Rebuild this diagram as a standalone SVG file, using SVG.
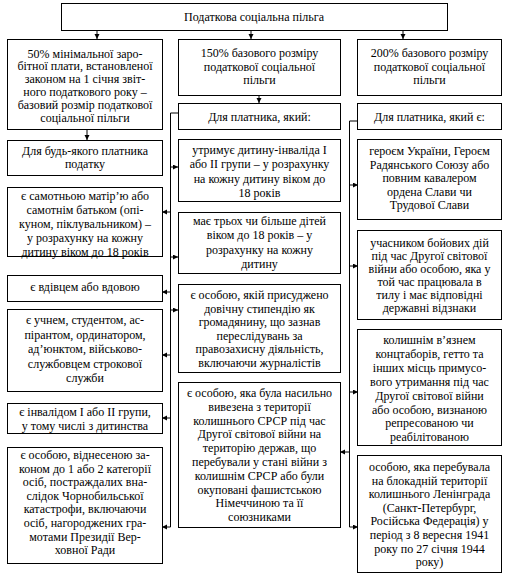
<svg xmlns="http://www.w3.org/2000/svg" width="523" height="581" viewBox="0 0 523 581">
<style>
rect.b{fill:#fff;stroke:#000;stroke-width:1}
text{font-family:'Liberation Serif','Times New Roman',Tinos,'Noto Serif','DejaVu Serif',serif;font-size:12px;fill:#000;text-anchor:middle}
.c{fill:none;stroke:#000;stroke-width:1}
</style>
<defs>
<marker id="ah" markerUnits="userSpaceOnUse" markerWidth="6" markerHeight="6" refX="5" refY="2.5" orient="auto"><path d="M0,0 L5,2.5 L0,5 z" fill="#000"/></marker>
</defs>
<rect width="523" height="581" fill="#fff"/>
<g id="connectors">
<path class="c" d="M97,30 V39" marker-end="url(#ah)"/>
<path class="c" d="M251,30 V39" marker-end="url(#ah)"/>
<path class="c" d="M403,30 V39" marker-end="url(#ah)"/>
<path class="c" d="M259,95 V103" marker-end="url(#ah)"/>
<path class="c" d="M87,129 V140" marker-end="url(#ah)"/>
<path class="c" d="M178,113 H170.5 V527"/>
<path class="c" d="M170.5,167 H178" marker-end="url(#ah)"/>
<path class="c" d="M170.5,257 H178" marker-end="url(#ah)"/>
<path class="c" d="M170.5,310 H178" marker-end="url(#ah)"/>
<path class="c" d="M170.5,212 H162" marker-end="url(#ah)"/>
<path class="c" d="M170.5,292 H162" marker-end="url(#ah)"/>
<path class="c" d="M170.5,355 H162" marker-end="url(#ah)"/>
<path class="c" d="M170.5,418 H162" marker-end="url(#ah)"/>
<path class="c" d="M170.5,527 H162" marker-end="url(#ah)"/>
<path class="c" d="M358,121 H349.5 V527"/>
<path class="c" d="M349.5,185 H358" marker-end="url(#ah)"/>
<path class="c" d="M349.5,266 H358" marker-end="url(#ah)"/>
<path class="c" d="M349.5,392 H358" marker-end="url(#ah)"/>
<path class="c" d="M349.5,527 H358" marker-end="url(#ah)"/>
<path class="c" d="M349.5,452 H340" marker-end="url(#ah)"/>
</g>
<g id="top"><rect class="b" x="61.5" y="3.5" width="386" height="27"/><text x="254" y="21">Податкова соціальна пільга</text></g>
<g id="l1"><rect class="b" x="7.5" y="39.5" width="155" height="90"/>
<text><tspan x="85" y="57.5">50% мінімальної заро-</tspan><tspan x="85" y="70.3">бітної плати, встановленої</tspan><tspan x="85" y="83.1">законом на 1 січня звіт-</tspan><tspan x="85" y="95.9">ного податкового року –</tspan><tspan x="85" y="108.7">базовий розмір податкової</tspan><tspan x="85" y="121.5">соціальної пільги</tspan></text></g>
<g id="c1"><rect class="b" x="178.5" y="39.5" width="162" height="56"/>
<text><tspan x="259.5" y="57">150% базового розміру</tspan><tspan x="259.5" y="70.5">податкової соціальної</tspan><tspan x="259.5" y="84">пільги</tspan></text></g>
<g id="r1"><rect class="b" x="357.5" y="39.5" width="144" height="56"/>
<text><tspan x="429.5" y="57">200% базового розміру</tspan><tspan x="429.5" y="70.5">податкової соціальної</tspan><tspan x="429.5" y="84">пільги</tspan></text></g>
<g id="c2"><rect class="b" x="178.5" y="103.5" width="162" height="26"/><text x="259.5" y="121">Для платника, який:</text></g>
<g id="r2"><rect class="b" x="357.5" y="103.5" width="144" height="26"/><text x="429.5" y="121">Для платника, який є:</text></g>
<g id="l2"><rect class="b" x="7.5" y="140.5" width="155" height="35"/>
<text><tspan x="85" y="155">Для будь-якого платника</tspan><tspan x="85" y="167.5">податку</tspan></text></g>
<g id="l3"><rect class="b" x="7.5" y="187.5" width="155" height="69"/>
<text><tspan x="85" y="200">є самотньою матір’ю або</tspan><tspan x="85" y="213.9">самотнім батьком (опі-</tspan><tspan x="85" y="227.8">куном, піклувальником) –</tspan><tspan x="85" y="241.7">у розрахунку на кожну</tspan><tspan x="85" y="255.6">дитину віком до 18 років</tspan></text></g>
<g id="l4"><rect class="b" x="7.5" y="275.5" width="155" height="26"/><text x="85" y="291">є вдівцем або вдовою</text></g>
<g id="l5"><rect class="b" x="7.5" y="309.5" width="155" height="82"/>
<text><tspan x="85" y="324">є учнем, студентом, ас-</tspan><tspan x="85" y="338.6">пірантом, ординатором,</tspan><tspan x="85" y="353.2">ад’юнктом, військово-</tspan><tspan x="85" y="367.8">службовцем строкової</tspan><tspan x="85" y="382.4">служби</tspan></text></g>
<g id="l6"><rect class="b" x="7.5" y="403.5" width="155" height="30"/>
<text><tspan x="85" y="416">є інвалідом I або II групи,</tspan><tspan x="85" y="429.5">у тому числі з дитинства</tspan></text></g>
<g id="l7"><rect class="b" x="7.5" y="447.5" width="155" height="116"/>
<text><tspan x="85" y="459">є особою, віднесеною за-</tspan><tspan x="85" y="472.6">коном до 1 або 2 категорії</tspan><tspan x="85" y="486.2">осіб, постраждалих вна-</tspan><tspan x="85" y="499.8">слідок Чорнобильської</tspan><tspan x="85" y="513.4">катастрофи, включаючи</tspan><tspan x="85" y="527">осіб, нагороджених гра-</tspan><tspan x="85" y="540.6">мотами Президії Вер-</tspan><tspan x="85" y="554.2">ховної Ради</tspan></text></g>
<g id="c3"><rect class="b" x="178.5" y="139.5" width="162" height="62"/>
<text><tspan x="259.5" y="154">утримує дитину-інваліда I</tspan><tspan x="259.5" y="168.3">або II групи – у розрахунку</tspan><tspan x="259.5" y="182.6">на кожну дитину віком до</tspan><tspan x="259.5" y="196.9">18 років</tspan></text></g>
<g id="c4"><rect class="b" x="178.5" y="212.5" width="162" height="61"/>
<text><tspan x="259.5" y="225">має трьох чи більше дітей</tspan><tspan x="259.5" y="239.3">віком до 18 років – у</tspan><tspan x="259.5" y="253.6">розрахунку на кожну</tspan><tspan x="259.5" y="267.9">дитину</tspan></text></g>
<g id="c5"><rect class="b" x="178.5" y="284.5" width="162" height="88"/>
<text><tspan x="259.5" y="299">є особою, якій присуджено</tspan><tspan x="259.5" y="312.6">довічну стипендію як</tspan><tspan x="259.5" y="326.2">громадянину, що зазнав</tspan><tspan x="259.5" y="339.8">переслідувань за</tspan><tspan x="259.5" y="353.4">правозахисну діяльність,</tspan><tspan x="259.5" y="367">включаючи журналістів</tspan></text></g>
<g id="c6"><rect class="b" x="178.5" y="382.5" width="162" height="145"/>
<text><tspan x="259.5" y="397">є особою, яка була насильно</tspan><tspan x="259.5" y="410.8">вивезена з території</tspan><tspan x="259.5" y="424.6">колишнього СРСР під час</tspan><tspan x="259.5" y="438.4">Другої світової війни на</tspan><tspan x="259.5" y="452.2">територію держав, що</tspan><tspan x="259.5" y="466">перебували у стані війни з</tspan><tspan x="259.5" y="479.8">колишнім СРСР або були</tspan><tspan x="259.5" y="493.6">окуповані фашистською</tspan><tspan x="259.5" y="507.4">Німеччиною та її</tspan><tspan x="259.5" y="521.2">союзниками</tspan></text></g>
<g id="r3"><rect class="b" x="357.5" y="139.5" width="144" height="80"/>
<text><tspan x="429.5" y="155">героєм України, Героєм</tspan><tspan x="429.5" y="168.5">Радянського Союзу або</tspan><tspan x="429.5" y="182">повним кавалером</tspan><tspan x="429.5" y="195.5">ордена Слави чи</tspan><tspan x="429.5" y="209">Трудової Слави</tspan></text></g>
<g id="r4"><rect class="b" x="357.5" y="230.5" width="144" height="89"/>
<text><tspan x="429.5" y="247">учасником бойових дій</tspan><tspan x="429.5" y="260">під час Другої світової</tspan><tspan x="429.5" y="273">війни або особою, яка у</tspan><tspan x="429.5" y="286">той час працювала в</tspan><tspan x="429.5" y="299">тилу і має відповідні</tspan><tspan x="429.5" y="312">державні відзнаки</tspan></text></g>
<g id="r5"><rect class="b" x="357.5" y="329.5" width="144" height="116"/>
<text><tspan x="429.5" y="344">колишнім в’язнем</tspan><tspan x="429.5" y="357.9">концтаборів, гетто та</tspan><tspan x="429.5" y="371.8">інших місць примусо-</tspan><tspan x="429.5" y="385.7">вого утримання під час</tspan><tspan x="429.5" y="399.6">Другої світової війни</tspan><tspan x="429.5" y="413.5">або особою, визнаною</tspan><tspan x="429.5" y="427.4">репресованою чи</tspan><tspan x="429.5" y="441.3">реабілітованою</tspan></text></g>
<g id="r6"><rect class="b" x="357.5" y="455.5" width="144" height="117"/>
<text><tspan x="429.5" y="471">особою, яка перебувала</tspan><tspan x="429.5" y="484.6">на блокадній території</tspan><tspan x="429.5" y="498.2">колишнього Ленінграда</tspan><tspan x="429.5" y="511.8">(Санкт-Петербург,</tspan><tspan x="429.5" y="525.4">Російська Федерація) у</tspan><tspan x="429.5" y="539">період з 8 вересня 1941</tspan><tspan x="429.5" y="552.6">року по 27 січня 1944</tspan><tspan x="429.5" y="566.2">року)</tspan></text></g>
</svg>
